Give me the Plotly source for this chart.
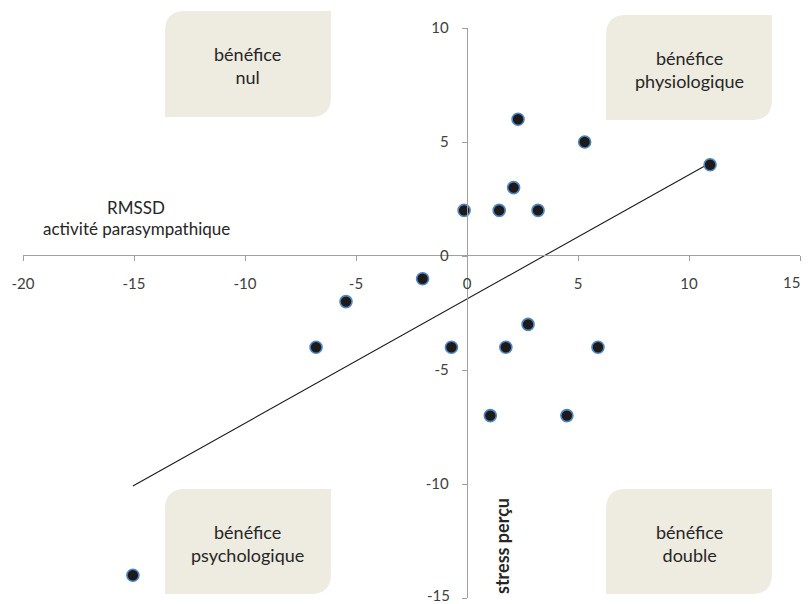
import numpy as np
import plotly.graph_objects as go

# ---- data ----
rmssd = [-15.05, -6.8, -5.45, -2.0, -0.7, -0.13, 1.05, 1.45, 1.75, 2.1, 2.3, 2.75, 3.2, 4.5, 5.3, 5.9, 10.95]
stress = [-14, -4, -2, -1, -4, 2, -7, 2, -4, 3, 6, -3, 2, -7, 5, -4, 4]
x_ticks = [-20, -15, -10, -5, 0, 5, 10, 15]
y_ticks = [-15, -10, -5, 0, 5, 10]
quadrant_labels = ["bénéfice<br>nul", "bénéfice<br>physiologique",
                   "bénéfice<br>psychologique", "bénéfice<br>double"]
x_title_lines = ["RMSSD", "activité parasympathique"]
y_title = "stress perçu"

# page body has an 8px default margin: draw the figure 8px smaller
OFF = 8
W, H = 810 - OFF, 604 - OFF
ML, MR, MT, MB = 23 - OFF, 10, 28 - OFF, 6
PW, PH = W - ML - MR, H - MT - MB

def px(x):
    return (x - OFF - ML) / PW

def py(y):
    return (H - MB - (y - OFF)) / PH

slope, intercept = np.polyfit(rmssd, stress, 1)
tx = np.array([min(rmssd), max(rmssd)])
ty = slope * tx + intercept

fig = go.Figure()
fig.add_trace(go.Scatter(x=tx, y=ty, mode="lines",
                         line=dict(color="#1a1a1a", width=1.1),
                         hoverinfo="skip", showlegend=False))
fig.add_trace(go.Scatter(x=rmssd, y=stress, mode="markers",
                         marker=dict(size=12, color="#1e1a1a",
                                     line=dict(color="#4f86c6", width=1.6)),
                         showlegend=False))

# quadrant boxes (round diagonal corners), in reference pixel coords
boxes = [(165, 331, 11, 117), (606, 772, 15, 120), (165, 331, 489, 594), (606, 772, 489, 594)]
rx, ry = 20 / PW, 20 / PH
shapes = []
annotations = []
for (a, b, t, u), lab in zip(boxes, quadrant_labels):
    x0, x1, y1, y0 = px(a), px(b), py(t), py(u)
    path = (f"M {x0},{y0} L {x0},{y1-ry} Q {x0},{y1} {x0+rx},{y1} "
            f"L {x1},{y1} L {x1},{y0+ry} Q {x1},{y0} {x1-rx},{y0} Z")
    shapes.append(dict(type="path", xref="paper", yref="paper", path=path,
                       fillcolor="#eeebe1", line=dict(width=0), layer="below"))
    annotations.append(dict(xref="paper", yref="paper", x=(x0 + x1) / 2, y=py((t + u) / 2 + 1.5),
                            xanchor="center", yanchor="middle",
                            text=lab, showarrow=False, align="center",
                            font=dict(family="Lato", size=18, color="#262626")))

annotations.append(dict(xref="paper", yref="paper", x=px(136), y=py(207), text=x_title_lines[0],
                        xanchor="center", yanchor="middle",
                        showarrow=False, font=dict(family="Lato", size=17, color="#262626")))
annotations.append(dict(xref="paper", yref="paper", x=px(136), y=py(228), text=x_title_lines[1],
                        xanchor="center", yanchor="middle",
                        showarrow=False, font=dict(family="Lato", size=17, color="#262626")))
annotations.append(dict(xref="paper", yref="paper", x=px(502), y=py(546), text=f"<b>{y_title}</b>",
                        xanchor="center", yanchor="middle",
                        textangle=-90, showarrow=False,
                        font=dict(family="Lato", size=18, color="#262626")))

tick_font = dict(family="Lato", size=15, color="#404040")
# edge tick labels: placed as right-aligned / lifted labels so they stay fully visible
x_ticktext = [str(v) for v in x_ticks[:-1]] + [""]
annotations.append(dict(xref="x", yref="paper", x=x_ticks[-1], y=py(282), text=str(x_ticks[-1]),
                        xanchor="right", yanchor="middle", xshift=2, showarrow=False,
                        font=tick_font))
y_ticktext = [""] + [str(v) for v in y_ticks[1:]]
annotations.append(dict(xref="paper", yref="y", x=px(452), y=y_ticks[0], text=str(y_ticks[0]),
                        xanchor="right", yanchor="middle", yshift=3, showarrow=False,
                        font=tick_font))

axis_common = dict(showgrid=False, zeroline=False, showline=True, linecolor="#a0a0a0",
                   linewidth=1, ticks="outside", ticklen=5, tickcolor="#a0a0a0",
                   tickfont=tick_font,
                   ticklabelstandoff=10, anchor="free", automargin=False,
                   ticklabeloverflow="allow")

fig.update_layout(
    width=W, height=H, margin=dict(l=ML, r=MR, t=MT, b=MB, autoexpand=False),
    paper_bgcolor="white", plot_bgcolor="white",
    xaxis=dict(range=[-20, 15], tickvals=x_ticks, ticktext=x_ticktext,
               position=py(255.4), **axis_common),
    yaxis=dict(range=[-15, 10], tickvals=y_ticks, ticktext=y_ticktext,
               position=px(466.7), **axis_common),
    shapes=shapes, annotations=annotations,
)

fig.write_html("out.html")
